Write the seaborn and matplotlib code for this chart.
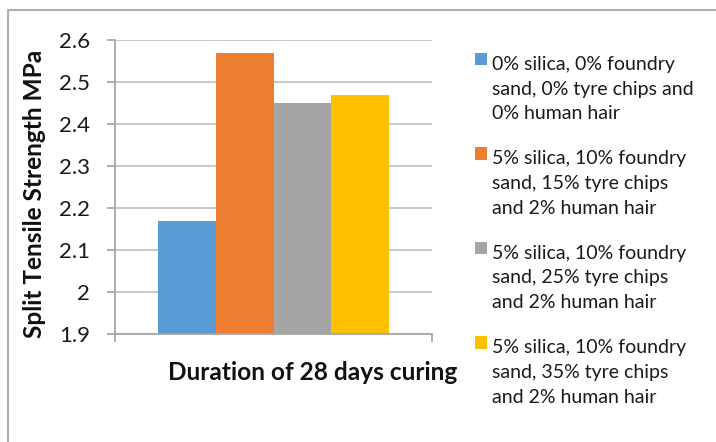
import matplotlib
matplotlib.use("Agg")
import matplotlib.pyplot as plt
from matplotlib.lines import Line2D
import seaborn as sns
import pandas as pd

# Split tensile strength after 28 days of curing for each mix
period = ["28 days"]
mixes = [
    "0% silica, 0% foundry\nsand, 0% tyre chips and\n0% human hair",
    "5% silica, 10% foundry\nsand, 15% tyre chips\nand 2% human hair",
    "5% silica, 10% foundry\nsand, 25% tyre chips\nand 2% human hair",
    "5% silica, 10% foundry\nsand, 35% tyre chips\nand 2% human hair",
]
strength = [2.17, 2.57, 2.45, 2.47]
colors = ["#5b9bd5", "#ed7d31", "#a5a5a5", "#ffc000"]
yticks = [1.9, 2.0, 2.1, 2.2, 2.3, 2.4, 2.5, 2.6]
ytick_labels = ["1.9", "2", "2.1", "2.2", "2.3", "2.4", "2.5", "2.6"]

df = pd.DataFrame({"period": period * len(mixes), "mix": mixes, "strength": strength})

sns.set_theme(style="white")
plt.rcParams["font.family"] = ["Lato", "DejaVu Sans"]

fig = plt.figure(figsize=(7.16, 4.42), dpi=100)
ax = fig.add_axes([115 / 716, 1 - 334 / 442, 317 / 716, 294 / 442])

sns.barplot(data=df, x="period", y="strength", hue="mix", hue_order=mixes,
            palette=colors, width=0.729, saturation=1, ax=ax, legend=True)
for p in ax.patches:
    p.set_linewidth(0)

ax.set_xlim(-0.5, 0.5)
ax.set_ylim(1.9, 2.6)
ax.set_yticks(yticks, labels=ytick_labels)
ax.set_xticks([-0.5, 0.5], labels=["", ""])
ax.set_xlabel("")
ax.set_ylabel("")

grid_color = "#bfbfbf"
axis_color = "#a6a6a6"
ax.set_axisbelow(True)
ax.yaxis.grid(True, color=grid_color, linewidth=1.2)
ax.xaxis.grid(False)
for side in ("top", "right"):
    ax.spines[side].set_visible(False)
for side in ("left", "bottom"):
    ax.spines[side].set_color(axis_color)
    ax.spines[side].set_linewidth(1.3)
ax.tick_params(axis="y", which="major", length=6, width=1.3, color=axis_color,
               direction="out", left=True, pad=12, labelsize=16, labelcolor="#1a1a1a")
ax.tick_params(axis="x", which="major", length=6, width=1.3, color=axis_color,
               direction="out", bottom=True)

fig.text(313 / 716, 1 - 373 / 442, "Duration of 28 days curing", ha="center", va="center",
         fontsize=17.6, fontweight="bold", color="#111111")
fig.text(35 / 716, 1 - 194 / 442, "Split Tensile Strength MPa", ha="center", va="center",
         rotation=90, fontsize=17.6, fontweight="bold", color="#111111")

fs = 14
leg = ax.legend(loc="upper left", bbox_to_anchor=(475 / 716, 1 - 56 / 442),
                bbox_transform=fig.transFigure, frameon=False, fontsize=fs,
                handlelength=0.6, handleheight=0.6, handletextpad=0.3,
                labelspacing=1.44, borderaxespad=0, borderpad=0)
for t in leg.get_texts():
    t.set_linespacing(1.55)
    t.set_color("#1a1a1a")
for h in leg.legend_handles:
    h.set_linewidth(0)
    h.set_y(h.get_y() + 1.55 * fs)

# light frame around the chart area
border = "#b0b0b0"
fig.add_artist(Line2D([8 / 716, 1.0], [1 - 10 / 442, 1 - 10 / 442],
                      transform=fig.transFigure, color=border, linewidth=1.5))
fig.add_artist(Line2D([8 / 716, 8 / 716], [0.0, 1 - 10 / 442],
                      transform=fig.transFigure, color=border, linewidth=1.5))

fig.savefig("out.png", dpi=100, facecolor="white")
